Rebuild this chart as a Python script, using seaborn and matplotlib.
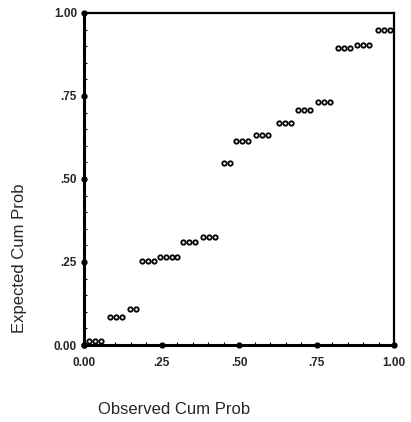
import numpy as np
import pandas as pd
import matplotlib
matplotlib.use("Agg")
import matplotlib.pyplot as plt
import seaborn as sns
from matplotlib.ticker import MultipleLocator

observed = [0.016, 0.035, 0.055,
            0.084, 0.103, 0.123, 0.148, 0.168,
            0.187, 0.206, 0.226, 0.245, 0.265, 0.284, 0.300,
            0.319, 0.339, 0.358, 0.384, 0.403, 0.423,
            0.452, 0.471,
            0.490, 0.510, 0.529, 0.555, 0.574, 0.594,
            0.629, 0.648, 0.668,
            0.690, 0.710, 0.729, 0.755, 0.774, 0.794,
            0.819, 0.839, 0.858, 0.881, 0.900, 0.919,
            0.948, 0.968, 0.987]
expected = [0.012, 0.012, 0.012,
            0.084, 0.084, 0.084, 0.108, 0.108,
            0.253, 0.253, 0.253, 0.265, 0.265, 0.265, 0.265,
            0.310, 0.310, 0.310, 0.325, 0.325, 0.325,
            0.548, 0.548,
            0.614, 0.614, 0.614, 0.633, 0.633, 0.633,
            0.669, 0.669, 0.669,
            0.708, 0.708, 0.708, 0.732, 0.732, 0.732,
            0.895, 0.895, 0.895, 0.904, 0.904, 0.904,
            0.949, 0.949, 0.949]

tick_vals = [0.0, 0.25, 0.5, 0.75, 1.0]
tick_labels = ["0.00", ".25", ".50", ".75", "1.00"]

df = pd.DataFrame({"Observed Cum Prob": observed, "Expected Cum Prob": expected})

sns.set_style("white")
plt.rcParams['font.family'] = ['Liberation Sans', 'DejaVu Sans']

fig = plt.figure(figsize=(4.11, 4.22), dpi=100)
ax = fig.add_axes([84/411, 77/422, 310/411, 332/422])

sns.scatterplot(data=df, x="Observed Cum Prob", y="Expected Cum Prob", ax=ax,
                marker="o", s=10, facecolor="white", edgecolor="black",
                linewidth=1.3, legend=False, zorder=3)

ax.set_xlim(0, 1)
ax.set_ylim(0, 1)
ax.set_xticks(tick_vals)
ax.set_xticklabels(tick_labels, fontsize=8.5, fontweight="bold")
ax.set_yticks(tick_vals)
ax.set_yticklabels(tick_labels, fontsize=8.5, fontweight="bold")
ax.xaxis.set_minor_locator(MultipleLocator(0.05))
ax.yaxis.set_minor_locator(MultipleLocator(0.05))
ax.tick_params(which="major", direction="in", length=3, width=2, color="black")
ax.tick_params(axis="x", which="major", pad=9)
ax.tick_params(axis="y", which="major", pad=5)
ax.tick_params(which="minor", direction="in", length=2, width=0.8, color="black",
               bottom=True, left=True)

for side in ["left", "bottom"]:
    ax.spines[side].set_linewidth(2.2)
for side in ["top", "right"]:
    ax.spines[side].set_linewidth(1.6)
for sp in ax.spines.values():
    sp.set_color("black")
    sp.set_visible(True)

for v in tick_vals:
    ax.plot([v], [0], marker="o", ms=3.5, color="black", clip_on=False, zorder=5)
    ax.plot([0], [v], marker="o", ms=3.5, color="black", clip_on=False, zorder=5)

ax.set_xlabel("Observed Cum Prob", fontsize=12)
ax.set_ylabel("Expected Cum Prob", fontsize=12)
ax.xaxis.set_label_coords(0.29, -0.172)
ax.yaxis.set_label_coords(-0.185, 0.26)

fig.savefig("out.png", dpi=100)
